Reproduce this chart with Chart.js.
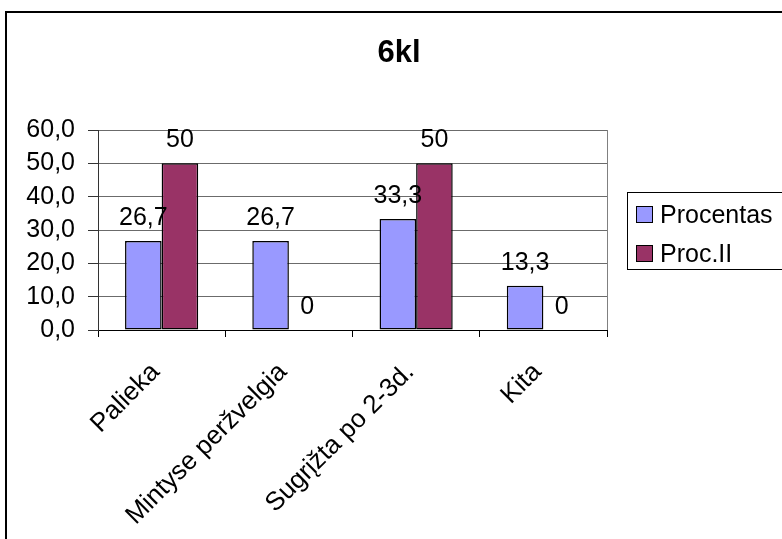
<!DOCTYPE html>
<html>
<head>
<meta charset="utf-8">
<script src="https://cdn.jsdelivr.net/npm/chart.js@4.4.1/dist/chart.umd.min.js"></script>
<style>
  html, body { margin: 0; padding: 0; background: #fff; }
  #wrap { width: 782px; height: 539px; position: relative; }
</style>
</head>
<body>
<div id="wrap"><canvas id="c" width="782" height="539"></canvas></div>
<script>
// Survey answers, 6th grade
const chartTitle = '6kl';
const categories = ['Palieka', 'Mintyse peržvelgia', 'Sugrįžta po 2-3d.', 'Kita'];
const seriesNames = ['Procentas', 'Proc.II'];
const procentas = [26.7, 26.7, 33.3, 13.3];
const procII = [50, 0, 50, 0];
const yMin = 0;
const yMax = 60;
const yStep = 10;

const seriesColors = ['#9999FF', '#993366'];
const FONT = "'Liberation Sans', Arial, sans-serif";

const fmtComma = v => String(v).replace('.', ',');

// white page, outer chart frame and the grey plot-area edge on the right
const framePlugin = {
  id: 'frame',
  beforeDraw(chart) {
    const ctx = chart.ctx;
    ctx.save();
    ctx.fillStyle = '#fff';
    ctx.fillRect(0, 0, chart.width, chart.height);
    ctx.strokeStyle = '#000';
    ctx.lineWidth = 2;
    ctx.beginPath();
    ctx.moveTo(6, chart.height + 5);
    ctx.lineTo(6, 12);
    ctx.lineTo(chart.width + 5, 12);
    ctx.stroke();
    ctx.restore();
  },
  beforeDatasetsDraw(chart) {
    const { ctx, chartArea: a } = chart;
    ctx.save();
    ctx.strokeStyle = '#808080';
    ctx.lineWidth = 1;
    ctx.beginPath();
    ctx.moveTo(Math.round(a.right) + 0.5, a.top);
    ctx.lineTo(Math.round(a.right) + 0.5, a.bottom);
    ctx.stroke();
    ctx.restore();
  }
};

// value labels above each bar
const valueLabels = {
  id: 'valueLabels',
  afterDatasetsDraw(chart) {
    const ctx = chart.ctx;
    ctx.save();
    ctx.font = '25px ' + FONT;
    ctx.fillStyle = '#000';
    ctx.textAlign = 'center';
    ctx.textBaseline = 'alphabetic';
    chart.data.datasets.forEach((ds, i) => {
      chart.getDatasetMeta(i).data.forEach((bar, j) => {
        ctx.fillText(fmtComma(ds.data[j]), bar.x, bar.y - 16);
      });
    });
    ctx.restore();
  }
};

// title and boxed legend
const titleLegend = {
  id: 'titleLegend',
  afterDraw(chart) {
    const ctx = chart.ctx;
    ctx.save();
    ctx.fillStyle = '#000';
    ctx.font = 'bold 31px ' + FONT;
    ctx.textAlign = 'center';
    ctx.textBaseline = 'alphabetic';
    ctx.fillText(chartTitle, 399, 62);

    ctx.strokeStyle = '#000';
    ctx.lineWidth = 1;
    ctx.strokeRect(627.5, 192.5, 200, 77);
    ctx.font = '25px ' + FONT;
    ctx.textAlign = 'left';
    chart.data.datasets.forEach((ds, i) => {
      const top = 206 + i * 38.5;
      ctx.fillStyle = ds.backgroundColor;
      ctx.fillRect(636, Math.round(top), 17, 17);
      ctx.strokeStyle = '#000';
      ctx.strokeRect(636.5, Math.round(top) + 0.5, 16, 16);
      ctx.fillStyle = '#000';
      ctx.fillText(ds.label, 660, Math.round(top) + 17);
    });
    ctx.restore();
  }
};

Chart.defaults.font.family = FONT;
Chart.defaults.color = '#000';

new Chart(document.getElementById('c'), {
  type: 'bar',
  data: {
    labels: categories,
    datasets: [
      { label: seriesNames[0], data: procentas, backgroundColor: seriesColors[0],
        borderColor: '#000', borderWidth: 1.5, borderSkipped: false },
      { label: seriesNames[1], data: procII, backgroundColor: seriesColors[1],
        borderColor: '#000', borderWidth: 1.5, borderSkipped: false }
    ]
  },
  options: {
    responsive: false,
    animation: false,
    devicePixelRatio: 1,
    layout: { padding: { top: 130, right: 175, left: 0, bottom: 0 } },
    datasets: { bar: { categoryPercentage: 0.575, barPercentage: 1 } },
    plugins: {
      legend: { display: false },
      title: { display: false },
      tooltip: { enabled: false }
    },
    scales: {
      x: {
        grid: { drawOnChartArea: false, drawTicks: true, tickLength: 7, color: '#000', offset: true },
        border: { color: '#000', width: 1 },
        ticks: {
          autoSkip: false, maxRotation: 45, minRotation: 45,
          padding: 20, labelOffset: -6, font: { size: 26 }, color: '#000'
        },
        afterFit(scale) { scale.height = 209; }
      },
      y: {
        min: yMin, max: yMax,
        grid: { color: '#6b6b6b', tickLength: 10, tickColor: '#333' },
        border: { color: '#333', width: 1 },
        ticks: {
          stepSize: yStep, padding: 13, font: { size: 25 }, color: '#000',
          callback: v => v.toFixed(1).replace('.', ',')
        },
        afterFit(scale) { scale.width = 98; }
      }
    }
  },
  plugins: [framePlugin, valueLabels, titleLegend]
});
</script>
</body>
</html>
